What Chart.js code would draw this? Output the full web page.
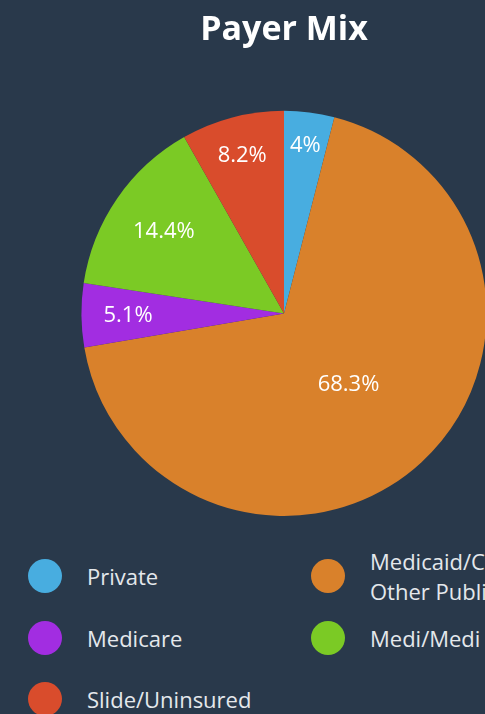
<!DOCTYPE html>
<html>
<head>
<meta charset="utf-8">
<script src="https://cdn.jsdelivr.net/npm/chart.js@4/dist/chart.umd.min.js"></script>
<style>
    html, body { margin: 0; padding: 0; background: #29394b; overflow: hidden; }
    #wrap { width: 568px; height: 714px; position: relative; }
    #chart-box { width: 568px; height: 530px; }
    #legend {
        position: absolute; left: 28px; top: 545px;
        display: grid; grid-template-columns: 283px 300px;
        grid-template-rows: 62px 62px 60px;
        font-family: "Open Sans", Lato, sans-serif; font-size: 22px; color: #e4e8ec;
    }
    .item { display: flex; align-items: center; white-space: nowrap; line-height: 30px; }
    .dot { width: 34px; height: 34px; border-radius: 50%; margin-right: 25px; flex: none; }
</style>
</head>
<body>
<div id="wrap">
    <div id="chart-box"><canvas id="pie"></canvas></div>
    <div id="legend"></div>
</div>
<script>
const labels = ['Private', ['Medicaid/CHIP/', 'Other Public'], 'Medicare', 'Medi/Medi', 'Slide/Uninsured'];
const shares = [4, 68.3, 5.1, 14.4, 8.2];
const colors = ['#48ade0', '#d9812b', '#a22de1', '#7bca25', '#d94c2c'];
// how far out each percentage label sits, as a fraction of the radius
const labelRadius = [0.84, 0.47, 0.77, 0.72, 0.81];

const sliceLabels = {
    id: 'sliceLabels',
    afterDatasetsDraw(chart) {
        const ctx = chart.ctx;
        const meta = chart.getDatasetMeta(0);
        ctx.save();
        ctx.fillStyle = '#ffffff';
        ctx.font = '22px "Open Sans", Lato, sans-serif';
        ctx.textAlign = 'center';
        ctx.textBaseline = 'middle';
        meta.data.forEach((arc, i) => {
            const mid = (arc.startAngle + arc.endAngle) / 2;
            const r = arc.outerRadius * labelRadius[i];
            ctx.fillText(shares[i] + '%', arc.x + Math.cos(mid) * r, arc.y + Math.sin(mid) * r + 1);
        });
        ctx.restore();
    }
};

new Chart(document.getElementById('pie'), {
    type: 'pie',
    data: {
        labels: labels,
        datasets: [{ data: shares, backgroundColor: colors, borderWidth: 0 }]
    },
    options: {
        responsive: true,
        maintainAspectRatio: false,
        animation: false,
        layout: { padding: { bottom: 14 } },
        plugins: {
            legend: { display: false },
            tooltip: { enabled: false },
            title: {
                display: true,
                text: 'Payer Mix',
                color: '#ffffff',
                font: { family: '"Open Sans", Lato, sans-serif', size: 34, weight: 'bold' },
                padding: { top: 10, bottom: 60 }
            }
        }
    },
    plugins: [sliceLabels]
});

// legend in two columns, built from the same arrays
const legendBox = document.getElementById('legend');
labels.forEach((lab, i) => {
    const text = Array.isArray(lab) ? lab.join('<br>') : lab;
    legendBox.insertAdjacentHTML('beforeend',
        `<div class="item"><span class="dot" style="background:${colors[i]}"></span><span>${text}</span></div>`);
});
</script>
</body>
</html>
